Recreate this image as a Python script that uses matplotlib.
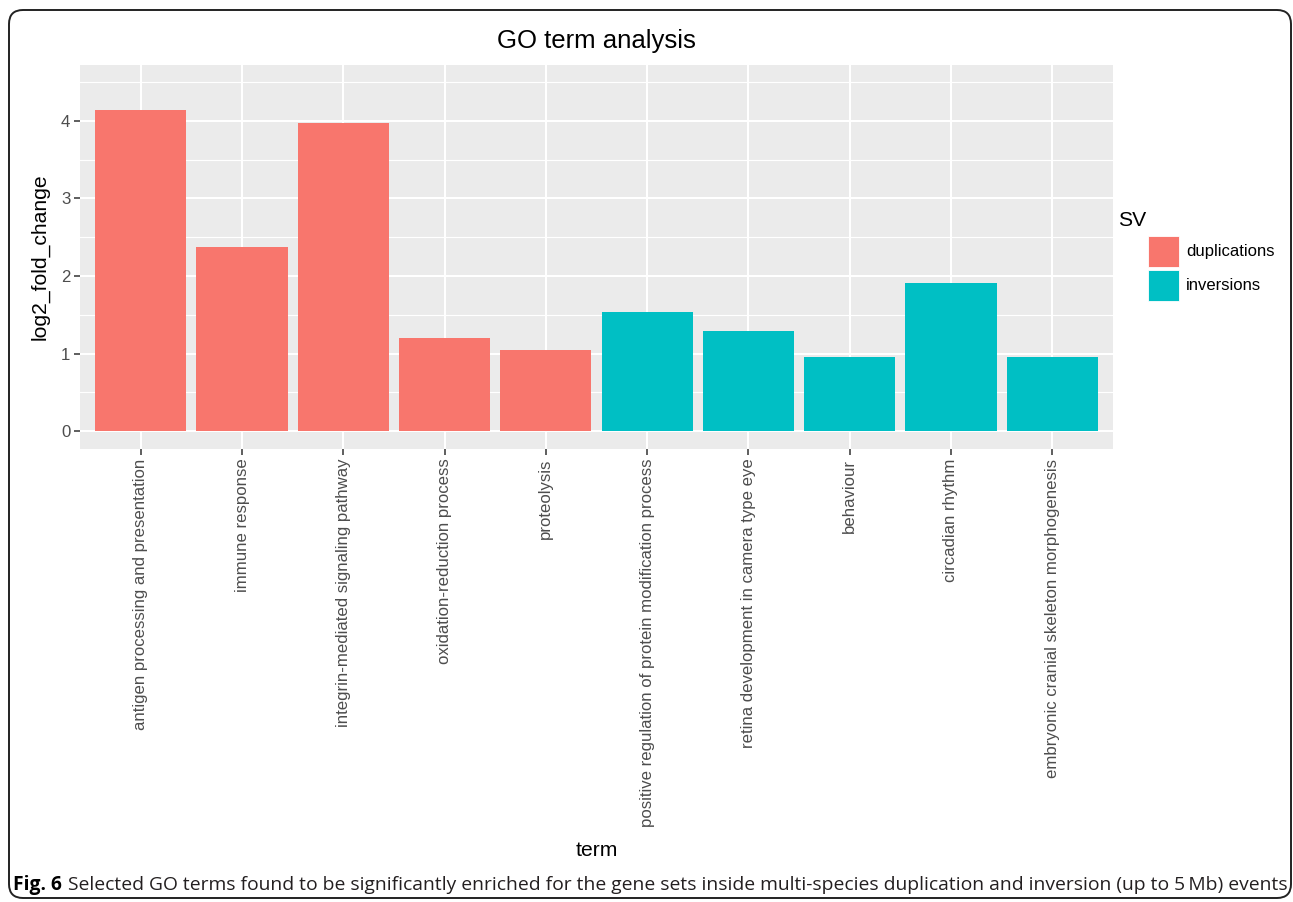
import matplotlib
matplotlib.use("Agg")
import matplotlib.pyplot as plt
from matplotlib.patches import Rectangle, FancyBboxPatch
from matplotlib.transforms import IdentityTransform
import numpy as np

terms = [
    "antigen processing and presentation",
    "immune response",
    "integrin-mediated signaling pathway",
    "oxidation-reduction process",
    "proteolysis",
    "positive regulation of protein modification process",
    "retina development in camera type eye",
    "behaviour",
    "circadian rhythm",
    "embryonic cranial skeleton morphogenesis",
]
log2_fc = [4.14, 2.37, 3.97, 1.20, 1.04, 1.53, 1.29, 0.96, 1.91, 0.96]
sv = ["duplications"] * 5 + ["inversions"] * 5
sv_colors = {"duplications": "#F8766D", "inversions": "#00BFC4"}

plt.rcParams["font.family"] = ["Liberation Sans", "DejaVu Sans"]

W, H = 1293, 902
fig = plt.figure(figsize=(W / 100, H / 100), dpi=100)
ax = fig.add_axes([80 / W, 1 - 449 / H, (1113 - 80) / W, (449 - 65) / H])

x = np.arange(1, len(terms) + 1)
ax.set_facecolor("#EBEBEB")
ax.bar(x, log2_fc, width=0.9, color=[sv_colors[s] for s in sv], zorder=3)

ax.set_xlim(0.4, len(terms) + 0.6)
ax.set_ylim(-0.232, 4.722)
ax.set_yticks([0, 1, 2, 3, 4])
ax.set_yticks([0.5, 1.5, 2.5, 3.5, 4.5], minor=True)
ax.set_xticks(x)
ax.set_xticklabels(terms, rotation=90, ha="center", va="top")
ax.grid(which="major", color="white", linewidth=1.5, zorder=1)
ax.grid(which="minor", axis="y", color="white", linewidth=0.8, zorder=1)
for s in ax.spines.values():
    s.set_visible(False)
ax.tick_params(which="major", colors="#333333", length=4, width=1.1,
               labelsize=12.1, labelcolor="#4D4D4D", pad=3)
ax.tick_params(which="minor", length=0)

ax.set_title("GO term analysis", fontsize=18.5, pad=12)
ax.set_ylabel("log2_fold_change", fontsize=15.2, labelpad=8)
ax.set_xlabel("term", fontsize=15.2, labelpad=10)

# legend: title, square keys and labels laid out in pixel positions
fig.text(1118 / W, 1 - 220 / H, "SV", fontsize=15.2, va="center", ha="left")
key_top = 236
for k in sv_colors:
    fig.add_artist(Rectangle((1148 / W, 1 - (key_top + 31) / H), 31 / W, 31 / H,
                             transform=fig.transFigure, facecolor=sv_colors[k],
                             edgecolor="white", linewidth=0.6))
    fig.text(1186 / W, 1 - (key_top + 16) / H, k, fontsize=12, va="center", ha="left")
    key_top += 34

cap = fig.text(13 / W, 1 - 885 / H, "Fig. 6", fontsize=13.85, fontweight="bold",
               family=["Open Sans", "DejaVu Sans"], va="center", ha="left")
fig.canvas.draw()
bb = cap.get_window_extent()
fig.text((bb.x1 + 6) / W, 1 - 885 / H,
         "Selected GO terms found to be significantly enriched for the gene sets inside "
         "multi-species duplication and inversion (up to 5\u2009Mb) events",
         fontsize=13.85, family=["Open Sans", "DejaVu Sans"], va="center", ha="left",
         color="#231F20")

frame = FancyBboxPatch((9, H - 898), 1282, 888, boxstyle="round,pad=0,rounding_size=14",
                       transform=IdentityTransform(), facecolor="none",
                       edgecolor="#222222", linewidth=1.4)
fig.patches.append(frame)

fig.savefig("out.png", dpi=100)
